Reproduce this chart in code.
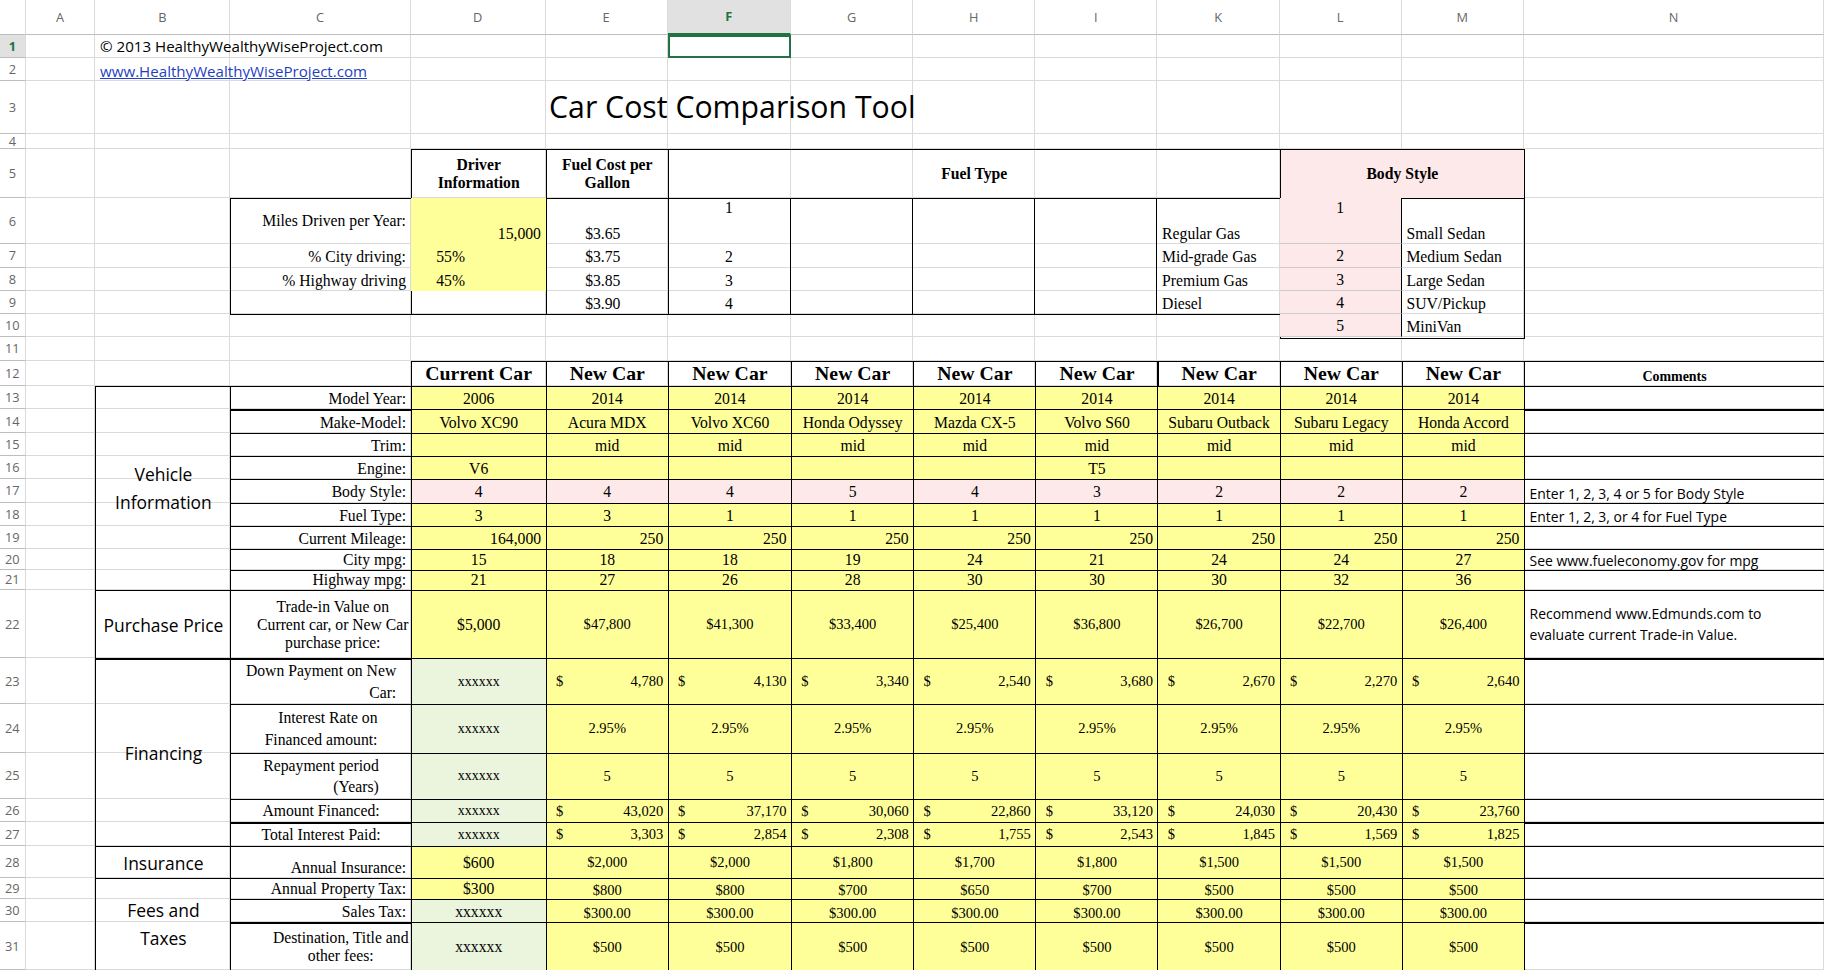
<!DOCTYPE html>
<html><head><meta charset="utf-8">
<script src="https://cdn.jsdelivr.net/npm/chart.js@4"></script>
<style>
body{margin:0;background:#fff;zoom:1.1633;overflow:hidden}
#sheet{position:relative;width:1568px;height:834px;font-family:"Liberation Serif","Times New Roman",serif;font-size:13.5px}
.g{position:absolute;box-sizing:border-box;border-right:1px solid #dadada;border-bottom:1px solid #dadada}
.c{position:absolute;box-sizing:border-box;display:flex;padding:1px 4px;line-height:1.15;overflow:hidden}
.hd{position:absolute;box-sizing:border-box;color:#666;font-family:"Open Sans",sans-serif;font-size:11px;display:flex;align-items:center;justify-content:center;border-right:1px solid #dadada;border-bottom:1px solid #bdbdbd}
.sans{font-family:"Open Sans","Liberation Sans",sans-serif;font-size:13px}
</style></head><body>
<div id="sheet"></div>
<script>
// column / row grid of the sheet
const colLetters = ['A','B','C','D','E','F','G','H','I','K','L','M','N'];
const colX = [22,82,198,353,469,574,680,785,890,995,1100,1205,1310,1568];
const rowY = [30,50,70,115,128,170,210,230,250,270,290,310,332,352,372,392,412,432,452,472,490,507,566,605,647,687,707,727,755,773,793,834];

// data
const carTypes = ['Current Car','New Car','New Car','New Car','New Car','New Car','New Car','New Car','New Car'];
const modelYears = ['2006','2014','2014','2014','2014','2014','2014','2014','2014'];
const makeModels = ['Volvo XC90','Acura MDX','Volvo XC60','Honda Odyssey','Mazda CX-5','Volvo S60','Subaru Outback','Subaru Legacy','Honda Accord'];
const trims = ['','mid','mid','mid','mid','mid','mid','mid','mid'];
const engines = ['V6','','','','','T5','','',''];
const bodyStyles = ['4','4','4','5','4','3','2','2','2'];
const fuelTypes = ['3','3','1','1','1','1','1','1','1'];
const mileage = ['164,000','250','250','250','250','250','250','250','250'];
const cityMpg = ['15','18','18','19','24','21','24','24','27'];
const highwayMpg = ['21','27','26','28','30','30','30','32','36'];
const prices = ['$5,000','$47,800','$41,300','$33,400','$25,400','$36,800','$26,700','$22,700','$26,400'];
const downPayments = ['4,780','4,130','3,340','2,540','3,680','2,670','2,270','2,640'];
const interestRates = ['2.95%','2.95%','2.95%','2.95%','2.95%','2.95%','2.95%','2.95%'];
const periods = ['5','5','5','5','5','5','5','5'];
const financed = ['43,020','37,170','30,060','22,860','33,120','24,030','20,430','23,760'];
const interestPaid = ['3,303','2,854','2,308','1,755','2,543','1,845','1,569','1,825'];
const insurance = ['$600','$2,000','$2,000','$1,800','$1,700','$1,800','$1,500','$1,500','$1,500'];
const propertyTax = ['$300','$800','$800','$700','$650','$700','$500','$500','$500'];
const salesTax = ['xxxxxx','$300.00','$300.00','$300.00','$300.00','$300.00','$300.00','$300.00','$300.00'];
const fees = ['xxxxxx','$500','$500','$500','$500','$500','$500','$500','$500'];
const fuelCosts = ['$3.65','$3.75','$3.85','$3.90'];
const fuelNames = ['Regular Gas','Mid-grade Gas','Premium Gas','Diesel'];
const bodyNames = ['Small Sedan','Medium Sedan','Large Sedan','SUV/Pickup','MiniVan'];

const YEL='#ffff99', PINK='#fde9e9', GRN='#ebf5de';
const sheet=document.getElementById('sheet');
function el(cls,x,y,w,h,html,st){const d=document.createElement('div');d.className=cls;
 Object.assign(d.style,{left:x+'px',top:y+'px',width:w+'px',height:h+'px'},st||{});d.innerHTML=html||'';sheet.appendChild(d);return d;}
// c: cell by row (1-based) and column index (0=A), merged to r2,c2
function c(r1,c1,r2,c2,txt,o){o=o||{};
 const x=colX[c1],y=rowY[r1-1],w=colX[c2+1]-x,h=rowY[r2]-y;
 const st={justifyContent:{l:'flex-start',c:'center',r:'flex-end'}[o.h||'c'],
  alignItems:{t:'flex-start',m:'center',b:'flex-end'}[o.v||'b'],textAlign:{l:'left',c:'center',r:'right'}[o.h||'c']};
 if(o.bg)st.background=o.bg;
 if(o.box)st.border='1px solid #000';
 if(o.fs)st.fontSize=o.fs+'px';
 if(o.b)st.fontWeight='bold';
 const d=el('c'+(o.sans?' sans':''),x,y,w+(o.box?1:0),h+(o.box?1:0),txt,st);
 if(o.style)Object.assign(d.style,o.style);
 return d;}

// gridlines
for(let r=1;r<rowY.length;r++)for(let k=0;k<13;k++)el('g',colX[k],rowY[r-1],colX[k+1]-colX[k],rowY[r]-rowY[r-1]);
// headers
el('hd',0,0,22,30,'');
colLetters.forEach((L,k)=>{const d=el('hd',colX[k],0,colX[k+1]-colX[k],30,L);if(L==='F'){d.style.color='#217346';d.style.fontWeight='bold';d.style.borderBottom='2px solid #217346';d.style.background='#e1e1e1';}});
for(let r=1;r<rowY.length;r++){const d=el('hd',0,rowY[r-1],22,rowY[r]-rowY[r-1],r);if(r===1){d.style.color='#217346';d.style.fontWeight='bold';d.style.background='#e1e1e1';}}
el('c',574,30,106,20,'',{border:'2px solid #217346'});

// title rows
c(1,1,2,3,'© 2013 HealthyWealthyWiseProject.com',{h:'l',sans:1,v:'t'}).style.top='32px';
c(2,1,2,3,'<u>www.HealthyWealthyWiseProject.com</u>',{h:'l',sans:1,style:{color:'#1f3fbf'}});
c(3,5,3,8,'Car Cost Comparison Tool',{h:'l',v:'m',sans:1,style:{fontSize:'26px',paddingLeft:'0',left:'472px',width:'500px',overflow:'visible'}});

// driver / fuel section
c(5,3,5,3,'Driver<br>Information',{b:1,box:1,v:'m'});
c(5,4,5,4,'Fuel Cost per<br>Gallon',{b:1,box:1,v:'m'});
c(5,5,5,9,'Fuel Type',{b:1,box:1,v:'m'});
c(5,10,5,11,'Body Style',{b:1,box:1,v:'m',bg:PINK});
c(6,2,9,2,'',{box:1});c(6,3,9,3,'',{box:1});c(6,4,9,4,'',{box:1});c(6,5,9,9,'',{box:1});
['Miles Driven per Year:','% City driving:','% Highway driving',''].forEach((t,i)=>c(6+i,2,6+i,2,t,{h:'r',v:i?'b':'m'}));
c(6,3,6,3,'15,000',{h:'r',bg:YEL});c(7,3,7,3,'55%',{h:'l',bg:YEL,style:{paddingLeft:'22px'}});c(8,3,8,3,'45%',{h:'l',bg:YEL,style:{paddingLeft:'22px'}});
fuelCosts.forEach((t,i)=>{c(6+i,4,6+i,4,t,{h:'l',style:{paddingLeft:'34px'}});c(6+i,5,6+i,5,String(i+1),{v:i?'b':'t',style:{borderRight:'1px solid #000'}});
 for(let k=6;k<=8;k++)c(6+i,k,6+i,k,'',{style:{borderRight:'1px solid #000'}});c(6+i,9,6+i,9,fuelNames[i],{h:'l'});});
c(6,10,10,11,'',{box:1});
bodyNames.forEach((t,i)=>{c(6+i,10,6+i,10,String(i+1),{bg:PINK,v:i?'b':'t',style:{borderRight:'1px solid #000',borderBottom:'1px solid #ccc'}});c(6+i,11,6+i,11,t,{h:'l'});});

// main table
carTypes.forEach((t,i)=>c(12,3+i,12,3+i,t,{b:1,box:1,fs:17}));
c(12,12,12,12,'Comments',{b:1,box:1,fs:12});
const rows=[
 [13,'Model Year:',modelYears],[14,'Make-Model:',makeModels],[15,'Trim:',trims],[16,'Engine:',engines],
 [17,'Body Style:',bodyStyles],[18,'Fuel Type:',fuelTypes],[19,'Current Mileage:',mileage],[20,'City mpg:',cityMpg],[21,'Highway mpg:',highwayMpg],
 [22,'Trade-in Value on<br>Current car, or New Car<br>purchase price:',prices],[28,'Annual Insurance:',insurance],[29,'Annual Property Tax:',propertyTax],
 [30,'Sales Tax:',salesTax],[31,'Destination, Title and<br>other fees:',fees]];
rows.forEach(([r,lab,vals])=>{
 c(r,2,r,2,lab,{h:'r',box:1,v:r===22||r===31?'m':'b',style:r===22||r===31?{textAlign:'center',padding:'1px 2px'}:{}});
 vals.forEach((v,i)=>{let bg=YEL;if(r===17)bg=PINK;if(i===0&&(r===30||r===31))bg=GRN;
  c(r,3+i,r,3+i,v,{box:1,bg:bg,h:r===19?'r':'c',v:r===22||r===31||r===28?'m':'b',fs:r>=22&&i>0?12.5:13.5});});
 c(r,12,r,12,'',{box:1});});
const fin=[[23,'Down Payment on New<br>Car:',downPayments,1],[24,'Interest Rate on<br>Financed amount:',interestRates,0],[25,'Repayment period<br>(Years)',periods,0],
 [26,'Amount Financed:',financed,1],[27,'Total Interest Paid:',interestPaid,1]];
fin.forEach(([r,lab,vals,dollar])=>{
 c(r,2,r,2,lab,{box:1,v:'m',style:{textAlign:'right',lineHeight:'1.4'}});
 c(r,3,r,3,'xxxxxx',{box:1,bg:GRN,v:'m',fs:12});
 vals.forEach((v,i)=>{const d=c(r,4+i,r,4+i,dollar?'<span>$</span><span>'+v+'</span>':v,{box:1,bg:YEL,v:'m',fs:12.5});
  if(dollar){d.style.justifyContent='space-between';d.style.padding='1px 4px 1px 8px';}});
 c(r,12,r,12,'',{box:1});});
c(17,12,17,12,'Enter 1, 2, 3, 4 or 5 for Body Style',{h:'l',box:1,sans:1,fs:12});
c(18,12,18,12,'Enter 1, 2, 3, or 4 for Fuel Type',{h:'l',box:1,sans:1,fs:12});
c(20,12,20,12,'See www.fueleconomy.gov for mpg',{h:'l',box:1,sans:1,fs:12});
c(22,12,22,12,'Recommend www.Edmunds.com to evaluate current Trade-in Value.',{h:'l',v:'m',box:1,sans:1,fs:12,style:{lineHeight:'1.45'}});
const grp={lineHeight:'1.6'};
c(13,1,21,1,'Vehicle<br>Information',{box:1,sans:1,fs:15,v:'m',style:grp});
c(22,1,22,1,'Purchase Price',{box:1,sans:1,fs:15,v:'m'});
c(23,1,27,1,'Financing',{box:1,sans:1,fs:15,v:'m'});
c(28,1,28,1,'Insurance',{box:1,sans:1,fs:15,v:'m'});
c(29,1,31,1,'Fees and<br>Taxes',{box:1,sans:1,fs:15,v:'m',style:grp});
</script></body></html>
